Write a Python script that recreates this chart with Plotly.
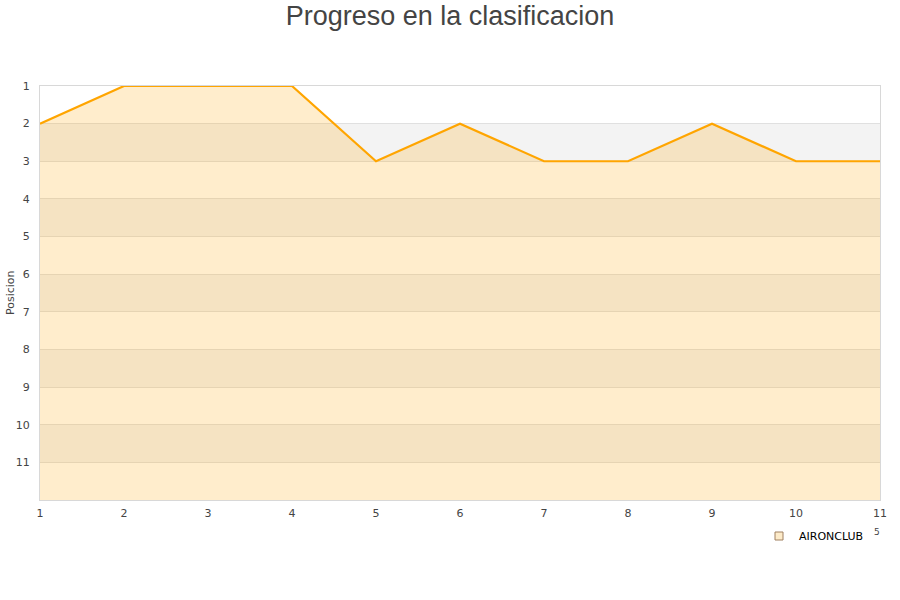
import plotly.graph_objects as go

jornadas = [1, 2, 3, 4, 5, 6, 7, 8, 9, 10, 11]
posiciones = [2, 1, 1, 1, 3, 2, 3, 3, 2, 3, 3]
equipo = "AIRONCLUB"
y_ticks = list(range(1, 12))
fondo_max = 12

fig = go.Figure()

# baseline for fill
fig.add_trace(go.Scatter(x=jornadas, y=[fondo_max] * len(jornadas), mode="lines",
                         line=dict(width=0, color="rgba(0,0,0,0)"), showlegend=False,
                         hoverinfo="skip"))
fig.add_trace(go.Scatter(x=jornadas, y=posiciones, mode="lines", fill="tonexty",
                         fillcolor="rgba(255,165,0,0.2)",
                         line=dict(color="#ffa500", width=2.2), showlegend=False,
                         name=equipo))
# legend entry
fig.add_trace(go.Scatter(x=[None], y=[None], mode="markers", name=equipo,
                         marker=dict(symbol="square", size=8, color="#fdebc9",
                                     line=dict(color="#a08060", width=1))))

shapes = []
for k in range(2, fondo_max, 2):
    shapes.append(dict(type="rect", xref="paper", yref="y", x0=0, x1=1, y0=k, y1=k + 1,
                       fillcolor="#f3f3f3", line=dict(width=0), layer="below"))

fig.update_layout(
    width=900, height=600,
    margin=dict(l=40, r=20, t=86, b=100, autoexpand=False),
    paper_bgcolor="white", plot_bgcolor="white",
    title=dict(text="Progreso en la clasificacion", x=0.5, xanchor="center",
               y=1 - 16 / 600, yanchor="middle", pad=dict(t=0),
               font=dict(family="Liberation Sans, Arial", size=27, color="#444444")),
    font=dict(family="DejaVu Sans", size=11, color="#444444"),
    shapes=shapes,
    showlegend=True,
    legend=dict(x=(759 - 40) / 840, y=(500 - 536) / 414, xanchor="left", yanchor="middle",
                bgcolor="rgba(0,0,0,0)",
                font=dict(family="DejaVu Sans", size=11, color="#000000")),
    xaxis=dict(range=[1, 11], tickvals=jornadas, showgrid=False, zeroline=False,
               showline=True, linecolor="#d8d8d8", linewidth=1, mirror=True, automargin=False,
               ticks="", ticklabelstandoff=3, tickfont=dict(size=11, color="#444444")),
    yaxis=dict(range=[fondo_max, 1], tickvals=y_ticks, showgrid=True, gridcolor="#e0e0e0",
               zeroline=False, showline=True, linecolor="#d8d8d8", linewidth=1, mirror=True,
               automargin=False, ticks="", ticklabelstandoff=7,
               tickfont=dict(size=11, color="#444444")),
    annotations=[
        dict(text="5", x=(882 - 40) / 840, y=(500 - 539) / 414,
             xref="paper", yref="paper", showarrow=False,
             font=dict(size=9, color="#444444")),
        dict(text="Posicion", textangle=-90, x=(10 - 40) / 840, y=(500 - 293) / 414,
             xref="paper", yref="paper", xanchor="center", yanchor="middle", showarrow=False,
             font=dict(size=11, color="#444444")),
    ],
)

fig.write_html("out.html", config={"displayModeBar": False},
               post_script="document.body.style.margin='0';")
